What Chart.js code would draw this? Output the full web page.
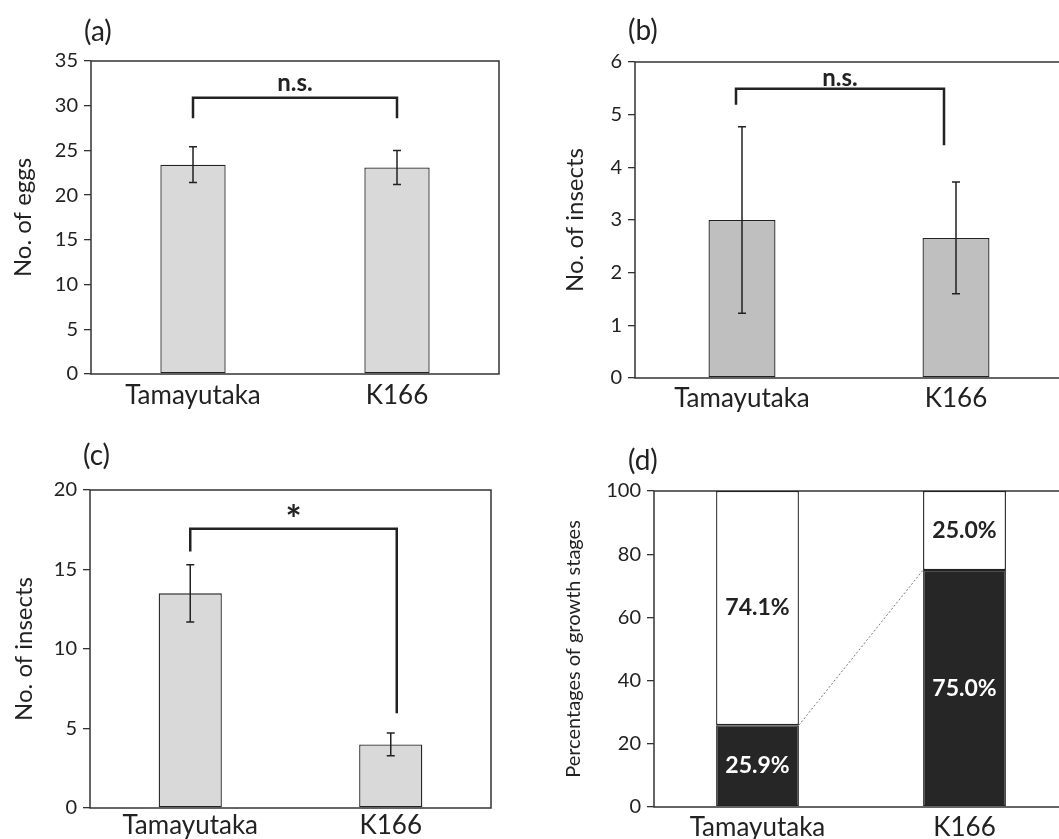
<!DOCTYPE html>
<html>
<head>
<meta charset="utf-8">
<script src="https://cdn.jsdelivr.net/npm/chart.js@4.4.1/dist/chart.umd.min.js"></script>
<style>
  html, body { margin: 0; padding: 0; background: #fff; overflow: hidden; }
  #page { position: relative; width: 1059px; height: 839px; overflow: hidden; }
  canvas { position: absolute; }
  .panel-label { position: absolute; font-family: Lato, "Open Sans", sans-serif; font-size: 28px; line-height: 28px; color: #222; }
</style>
</head>
<body>
<div id="page">
  <canvas id="chart-a" width="530" height="420" style="left:0;top:0"></canvas>
  <canvas id="chart-b" width="540" height="420" style="left:530px;top:0"></canvas>
  <canvas id="chart-c" width="530" height="419" style="left:0;top:420px"></canvas>
  <canvas id="chart-d" width="545" height="419" style="left:530px;top:420px"></canvas>
  <div class="panel-label" style="left:84px;top:16px">(a)</div>
  <div class="panel-label" style="left:628px;top:15px">(b)</div>
  <div class="panel-label" style="left:83px;top:440px">(c)</div>
  <div class="panel-label" style="left:628px;top:445px">(d)</div>
</div>
<script>
const categories = ["Tamayutaka", "K166"];

// (a) eggs
const eggMeans = [23.4, 23.1];
const eggErrors = [2.0, 1.9];

// (b) insects
const insectMeansB = [3.0, 2.66];
const insectErrorsB = [1.77, 1.06];

// (c) insects
const insectMeansC = [13.5, 4.0];
const insectErrorsC = [1.8, 0.72];

// (d) growth stages (%), dark part at the bottom
const stageDark = [25.9, 75.0];
const stageLight = [74.1, 25.0];

// significance brackets: level of the bar, foot of each end, label
const bracketLevels = [30.9, 5.49, 17.57];
const bracketLeftEnds = [28.6, 5.19, 16.13];
const bracketRightEnds = [28.6, 4.42, 5.96];
const bracketLabels = ["n.s.", "n.s.", "*"];

const FONT = "Lato, 'Open Sans', sans-serif";
const INK = "#222";
Chart.defaults.font.family = FONT;
Chart.defaults.color = INK;

const plotBox = {
    id: "plotBox",
    beforeDatasetsDraw(chart) {
        const {ctx, chartArea: a} = chart;
        ctx.save();
        ctx.strokeStyle = "#333";
        ctx.lineWidth = 1.5;
        ctx.strokeRect(a.left, a.top, a.right - a.left, a.bottom - a.top);
        ctx.restore();
    }
};

const errorBars = {
    id: "errorBars",
    afterDatasetsDraw(chart, args, opts) {
        if (!opts.errors) return;
        const ctx = chart.ctx;
        const y = chart.scales.y;
        const values = chart.data.datasets[0].data;
        ctx.save();
        ctx.strokeStyle = INK;
        ctx.lineWidth = 1.5;
        chart.getDatasetMeta(0).data.forEach((bar, i) => {
            const hi = y.getPixelForValue(values[i] + opts.errors[i]);
            const lo = y.getPixelForValue(values[i] - opts.errors[i]);
            ctx.beginPath();
            ctx.moveTo(bar.x, hi);
            ctx.lineTo(bar.x, lo);
            ctx.moveTo(bar.x - 4, hi);
            ctx.lineTo(bar.x + 4, hi);
            ctx.moveTo(bar.x - 4, lo);
            ctx.lineTo(bar.x + 4, lo);
            ctx.stroke();
        });
        ctx.restore();
    }
};

const bracket = {
    id: "bracket",
    afterDatasetsDraw(chart, args, opts) {
        if (opts.index == null) return;
        const k = opts.index;
        const ctx = chart.ctx;
        const y = chart.scales.y;
        const bars = chart.getDatasetMeta(0).data;
        const x0 = bars[0].x + opts.shiftLeft, x1 = bars[1].x + opts.shiftRight;
        const top = y.getPixelForValue(bracketLevels[k]);
        ctx.save();
        ctx.strokeStyle = INK;
        ctx.lineWidth = 2.5;
        ctx.beginPath();
        ctx.moveTo(x0, y.getPixelForValue(bracketLeftEnds[k]));
        ctx.lineTo(x0, top);
        ctx.lineTo(x1, top);
        ctx.lineTo(x1, y.getPixelForValue(bracketRightEnds[k]));
        ctx.stroke();
        ctx.fillStyle = INK;
        ctx.font = "bold " + opts.size + "px " + FONT;
        ctx.textAlign = "center";
        ctx.textBaseline = "middle";
        ctx.fillText(bracketLabels[k], (x0 + x1) / 2, top - opts.gap);
        ctx.restore();
    }
};

const segmentLabels = {
    id: "segmentLabels",
    afterDatasetsDraw(chart, args, opts) {
        if (!opts.colors) return;
        const ctx = chart.ctx;
        ctx.save();
        ctx.font = "bold 23px " + FONT;
        ctx.textAlign = "center";
        ctx.textBaseline = "middle";
        chart.data.datasets.forEach((ds, di) => {
            ctx.fillStyle = opts.colors[di];
            chart.getDatasetMeta(di).data.forEach((bar, i) => {
                ctx.fillText(ds.data[i].toFixed(1) + "%", bar.x, (bar.y + bar.base) / 2);
            });
        });
        ctx.restore();
    }
};

const stageConnector = {
    id: "stageConnector",
    afterDatasetsDraw(chart, args, opts) {
        if (!opts.show) return;
        const ctx = chart.ctx;
        const bars = chart.getDatasetMeta(0).data;
        ctx.save();
        ctx.strokeStyle = "#777";
        ctx.lineWidth = 1;
        ctx.setLineDash([2, 2]);
        ctx.beginPath();
        ctx.moveTo(bars[0].x + bars[0].width / 2, bars[0].y);
        ctx.lineTo(bars[1].x - bars[1].width / 2, bars[1].y);
        ctx.stroke();
        ctx.restore();
    }
};

function makeChart(id, cfg) {
    const canvas = document.getElementById(id);
    new Chart(canvas, {
        type: "bar",
        data: {
            labels: categories,
            datasets: cfg.datasets
        },
        options: {
            responsive: false,
            animation: false,
            layout: {padding: cfg.padding},
            datasets: {
                bar: {
                    categoryPercentage: 1,
                    barPercentage: cfg.barPct,
                    borderColor: INK,
                    borderWidth: 1.3,
                    borderSkipped: false
                }
            },
            plugins: {
                legend: {display: false},
                tooltip: {enabled: false},
                errorBars: {errors: cfg.errors},
                bracket: {
                    index: cfg.bracket, gap: cfg.bracketGap, size: cfg.bracketSize,
                    shiftLeft: cfg.shiftLeft || 0, shiftRight: cfg.shiftRight || 0
                },
                segmentLabels: {colors: cfg.labelColors},
                stageConnector: {show: !!cfg.connector}
            },
            scales: {
                x: {
                    stacked: !!cfg.stacked,
                    grid: {display: false},
                    border: {display: false},
                    ticks: {font: {size: 26}, padding: cfg.xPad, color: INK},
                    afterFit: s => { s.height = cfg.xHeight; }
                },
                y: {
                    stacked: !!cfg.stacked,
                    min: 0,
                    max: cfg.max,
                    grid: {drawOnChartArea: false, drawTicks: true, tickLength: 7, color: "#333", lineWidth: 1.3},
                    border: {display: false},
                    ticks: {stepSize: cfg.step, font: {size: 20}, padding: 6, color: INK},
                    title: {
                        display: true,
                        text: cfg.title,
                        font: {size: cfg.titleSize},
                        color: INK,
                        padding: {top: cfg.titlePad, bottom: 0}
                    },
                    afterFit: s => { s.width = cfg.yWidth; }
                }
            }
        },
        plugins: [plotBox, errorBars, bracket, segmentLabels, stageConnector]
    });
}

makeChart("chart-a", {
    datasets: [{data: eggMeans, backgroundColor: "#d9d9d9"}],
    errors: eggErrors, bracket: 0, bracketGap: 14, bracketSize: 24,
    max: 35, step: 5, title: "No. of eggs", titleSize: 24, titlePad: 9,
    padding: {top: 61, right: 31, left: 0, bottom: 0}, yWidth: 91, xHeight: 46, xPad: -2, barPct: 0.32
});

makeChart("chart-b", {
    datasets: [{data: insectMeansB, backgroundColor: "#bfbfbf"}],
    errors: insectErrorsB, bracket: 1, bracketGap: 11, bracketSize: 24, shiftLeft: -6, shiftRight: -12,
    max: 6, step: 1, title: "No. of insects", titleSize: 24, titlePad: 31,
    padding: {top: 62, right: 7, left: 0, bottom: 0}, yWidth: 105, xHeight: 42, xPad: -3, barPct: 0.313
});

makeChart("chart-c", {
    datasets: [{data: insectMeansC, backgroundColor: "#d9d9d9"}],
    errors: insectErrorsC, bracket: 2, bracketGap: 8, bracketSize: 38, shiftRight: 6,
    max: 20, step: 5, title: "No. of insects", titleSize: 24, titlePad: 10,
    padding: {top: 70, right: 39, left: 0, bottom: 0}, yWidth: 90, xHeight: 31, xPad: -6, barPct: 0.315
});

makeChart("chart-d", {
    datasets: [
        {data: stageDark, backgroundColor: "#262626"},
        {data: stageLight, backgroundColor: "#ffffff"}
    ],
    stacked: true, labelColors: ["#ffffff", INK], connector: true,
    max: 100, step: 20, title: "Percentages of growth stages", titleSize: 20, titlePad: 32,
    padding: {top: 71, right: 7, left: 0, bottom: 0}, yWidth: 124, xHeight: 32, xPad: -3, barPct: 0.40
});
</script>
</body>
</html>
